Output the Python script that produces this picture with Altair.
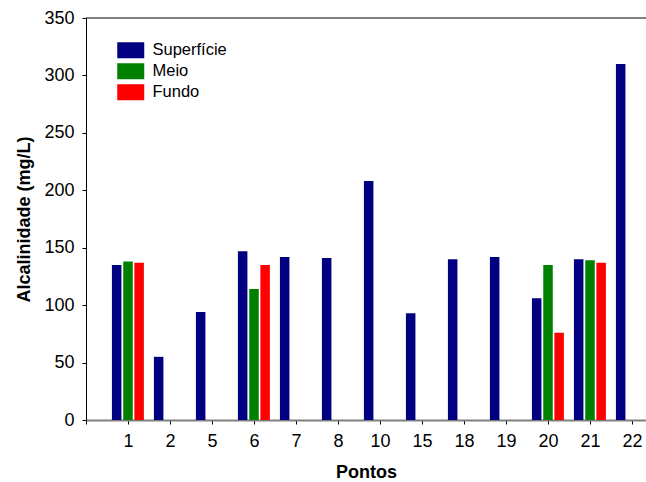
import altair as alt
import pandas as pd

# Sampling points and alkalinity (mg/L) at three depths
pontos = ["1", "2", "5", "6", "7", "8", "10", "15", "18", "19", "20", "21", "22"]
superficie = [135, 55, 94, 147, 142, 141, 208, 93, 140, 142, 106, 140, 310]
meio = [138, None, None, 114, None, None, None, None, None, None, 135, 139, None]
fundo = [137, None, None, 135, None, None, None, None, None, None, 76, 137, None]

series = ["Superfície", "Meio", "Fundo"]
colors = ["#000080", "#008000", "#ff0000"]
y_ticks = [0, 50, 100, 150, 200, 250, 300, 350]

rows = []
for i, p in enumerate(pontos):
    for s, vals in zip(series, [superficie, meio, fundo]):
        if vals[i] is not None:
            rows.append({"ponto": p, "idx": i + 1, "serie": s, "valor": vals[i]})
df = pd.DataFrame(rows)

font = "Liberation Sans"
labels_js = "[" + ",".join(["''"] + [f"'{p}'" for p in pontos]) + "]"
rect_path = "M-1.6875,-1H1.6875V1H-1.6875Z"

bars = (
    alt.Chart(df)
    .transform_calculate(
        pos="datum.idx + (datum.serie == 'Superfície' ? -0.27 : datum.serie == 'Meio' ? 0 : 0.265)"
    )
    .mark_bar(size=9.5, strokeWidth=0)
    .encode(
        x=alt.X(
            "pos:Q",
            scale=alt.Scale(domain=[0, 13.333], nice=False, zero=False, padding=0),
            axis=alt.Axis(
                values=list(range(len(pontos) + 1)),
                labelExpr=f"{labels_js}[datum.value]",
                title="Pontos",
                grid=False,
                domainColor="#808080",
                domainWidth=2,
                tickColor="black",
                tickSize=4,
                labelPadding=8,
                labelFontSize=18,
                labelColor="black",
                titleFontSize=18,
                titleFontWeight="bold",
                titleColor="black",
                titlePadding=13,
                labelFlush=False,
                labelOverlap=False,
            ),
        ),
        y=alt.Y(
            "valor:Q",
            scale=alt.Scale(domain=[0, 350], nice=False),
            axis=alt.Axis(
                values=y_ticks,
                title="Alcalinidade (mg/L)",
                grid=False,
                domainColor="black",
                tickColor="black",
                tickSize=4,
                labelPadding=8,
                labelFontSize=18,
                labelColor="black",
                titleFontSize=18,
                titleFontWeight="bold",
                titleColor="black",
                titlePadding=10,
                labelFlush=False,
            ),
        ),
        color=alt.Color(
            "serie:N",
            scale=alt.Scale(domain=series, range=colors),
            legend=alt.Legend(
                orient="none",
                legendX=36.5,
                legendY=24,
                title=None,
                symbolType=rect_path,
                symbolSize=256,
                symbolStrokeWidth=0,
                labelFontSize=16.5,
                labelFont=font,
                labelColor="black",
                labelOffset=13.5,
                rowPadding=4,
                padding=0,
            ),
        ),
    )
)

top_line = (
    alt.Chart(pd.DataFrame({"y": [350]}))
    .mark_rule(color="black", strokeWidth=1)
    .encode(y=alt.Y("y:Q"))
)

chart = (
    alt.layer(bars, top_line)
    .properties(
        width=560,
        height=402,
        padding={"left": 86, "top": 18, "right": 0, "bottom": 62},
        autosize=alt.AutoSizeParams(type="none"),
    )
    .configure(font=font)
    .configure_view(stroke=None)
)

chart.save("out.html", embed_options={"renderer": "svg", "actions": False})
